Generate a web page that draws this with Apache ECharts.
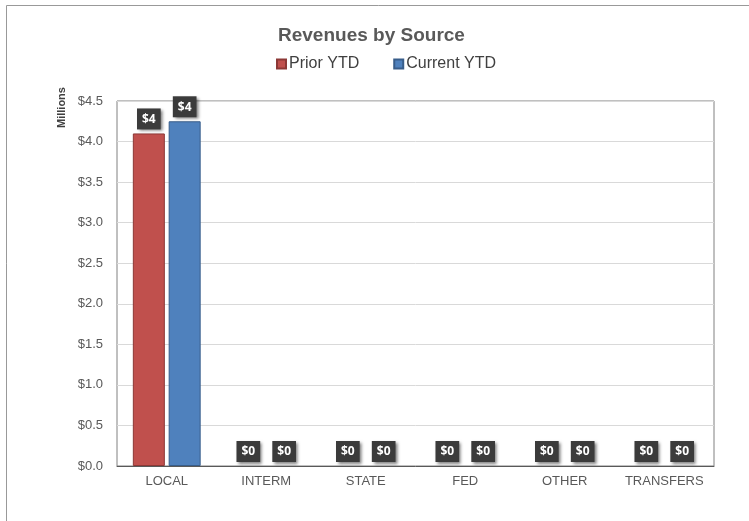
<!DOCTYPE html>
<html>
<head>
<meta charset="utf-8">
<script src="https://cdn.jsdelivr.net/npm/echarts@6/dist/echarts.min.js"></script>
<style>html,body{margin:0;padding:0;background:#fff}#c{width:749px;height:521px}</style>
</head>
<body>
<div id="c"></div>
<script>
const categories = ['LOCAL', 'INTERM', 'STATE', 'FED', 'OTHER', 'TRANSFERS'];
const priorYTD = [4.1, 0, 0, 0, 0, 0];
const currentYTD = [4.25, 0, 0, 0, 0, 0];
const seriesNames = ['Prior YTD', 'Current YTD'];

const chart = echarts.init(document.getElementById('c'), null, {renderer: 'canvas'});
const font = 'Liberation Sans, Arial, sans-serif';
const labelCfg = {
  show: true,
  position: 'top',
  distance: 4,
  formatter: p => '$' + Math.round(p.value),
  color: '#fff',
  fontWeight: 'bold',
  fontSize: 12,
  lineHeight: 14,
  fontFamily: 'Open Sans, DejaVu Sans, sans-serif',
  backgroundColor: '#3b3b3b',
  padding: [4, 5, 3, 5],
  shadowColor: 'rgba(0,0,0,0.5)',
  shadowBlur: 3,
  shadowOffsetX: 2,
  shadowOffsetY: 2
};
const toItems = arr => arr.map(v => v === 0 ? {value: v, itemStyle: {borderWidth: 0}} : v);
chart.setOption({
  animation: false,
  textStyle: {fontFamily: font},
  title: {
    text: 'Revenues by Source',
    left: 273, top: 21,
    textStyle: {fontSize: 19, fontWeight: 'bold', color: '#595959', fontFamily: font}
  },
  legend: {
    top: 51, left: 271,
    itemWidth: 9, itemHeight: 9, itemGap: 34,
    icon: 'rect',
    textStyle: {fontSize: 16, color: '#404040', fontFamily: font, padding: [0,0,0,-2]},
    data: seriesNames
  },
  graphic: [
    {type: 'rect', shape: {x: 6.5, y: 5.5, width: 800, height: 600}, style: {fill: 'none', stroke: '#999', lineWidth: 1}, z: -1},
    {type: 'text', rotation: Math.PI / 2, x: 56, y: 128,
     style: {text: 'Millions', font: 'bold 11px Liberation Sans, Arial, sans-serif', fill: '#404040', textAlign: 'left', textVerticalAlign: 'top'}}
  ],
  grid: {left: 117, right: 35, top: 101, bottom: 55, show: true, borderColor: '#808080', borderWidth: 1},
  xAxis: {
    type: 'category',
    data: categories,
    axisTick: {show: false},
    axisLine: {lineStyle: {color: '#595959'}},
    axisLabel: {color: '#595959', fontSize: 13, margin: 9, interval: 0, fontFamily: font}
  },
  yAxis: {
    type: 'value', min: 0, max: 4.5, interval: 0.5,
    axisLine: {show: false}, axisTick: {show: false},
    splitLine: {lineStyle: {color: '#d9d9d9'}},
    axisLabel: {color: '#595959', fontSize: 13, margin: 14, formatter: v => '$' + v.toFixed(1), fontFamily: font}
  },
  series: [
    {name: seriesNames[0], type: 'bar', data: toItems(priorYTD), barWidth: 32, barGap: '12%',
     itemStyle: {color: '#c0504d', borderColor: '#8c3836', borderWidth: 1}, label: labelCfg},
    {name: seriesNames[1], type: 'bar', data: toItems(currentYTD), barWidth: 32,
     itemStyle: {color: '#4f81bd', borderColor: '#385d8a', borderWidth: 1}, label: labelCfg}
  ]
});
</script>
</body>
</html>
